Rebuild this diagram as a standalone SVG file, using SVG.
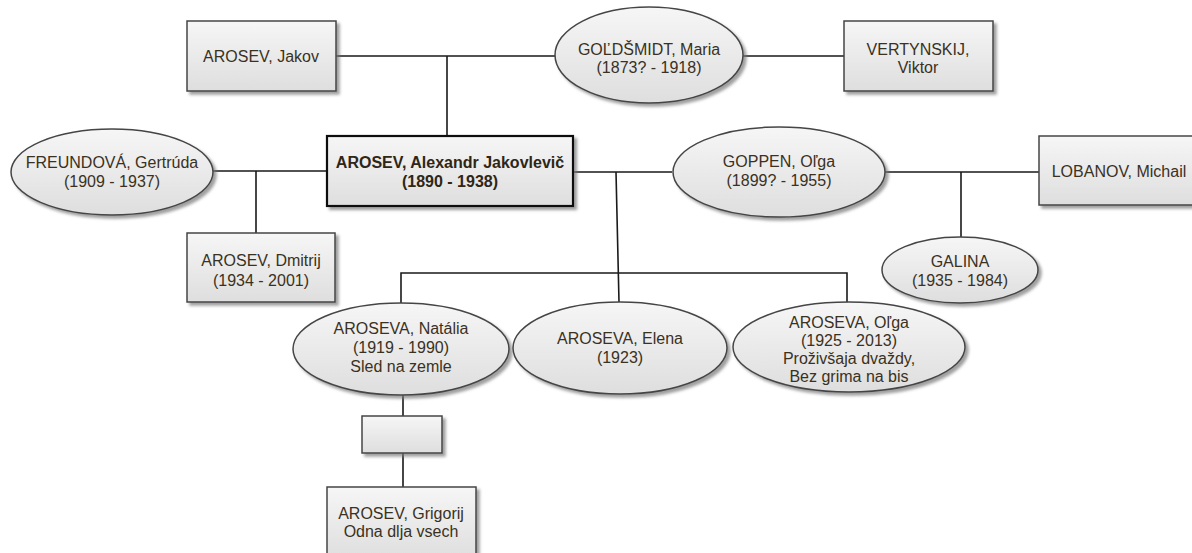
<svg xmlns="http://www.w3.org/2000/svg" width="1192" height="553" viewBox="0 0 1192 553">
<defs>
<linearGradient id="g" x1="0" y1="0" x2="0" y2="1">
<stop offset="0" stop-color="#f6f6f6"/>
<stop offset="1" stop-color="#dedede"/>
</linearGradient>
<filter id="sh" x="-10%" y="-10%" width="130%" height="140%">
<feDropShadow dx="3" dy="3" stdDeviation="1.5" flood-color="#777" flood-opacity="0.7"/>
</filter>
</defs>
<style>
.n{fill:url(#g);stroke:#454545;stroke-width:1.5;filter:url(#sh)}
.b{fill:url(#g);stroke:#111;stroke-width:2.2;filter:url(#sh)}
.c{fill:none;stroke:#1a1a1a;stroke-width:1.6}
text{font-family:"Liberation Sans",Arial,sans-serif;font-size:16px;fill:#3a3122;text-anchor:middle}
.t{font-weight:bold;fill:#2e2616}
</style>
<rect width="1192" height="553" fill="#fff"/>
<g id="connectors">
<path class="c" d="M336 56H557M743 56H844M447 56V136"/>
<path class="c" d="M213 171H327M256 171V233"/>
<path class="c" d="M573 172H672M616 172L619 302M401 303V273H847V302"/>
<path class="c" d="M885 172H1039M961 172V237"/>
<path class="c" d="M403 395V416M403 453V487"/>
</g>
<g id="jakov"><rect class="n" x="187" y="21" width="149" height="70"/><text x="261" y="62">AROSEV, Jakov</text></g>
<g id="goldsmidt"><ellipse class="n" cx="649" cy="55" rx="94" ry="48"/><text x="649" y="55">GOĽDŠMIDT, Maria</text><text x="649" y="73">(1873? - 1918)</text></g>
<g id="vertynskij"><rect class="n" x="844" y="21" width="149" height="70"/><text x="918" y="55">VERTYNSKIJ,</text><text x="918" y="73">Viktor</text></g>
<g id="freundova"><ellipse class="n" cx="112" cy="172" rx="101" ry="43"/><text x="112" y="168">FREUNDOVÁ, Gertrúda</text><text x="112" y="187">(1909 - 1937)</text></g>
<g id="alexandr"><rect class="b" x="327" y="136" width="246" height="70"/><text class="t" x="450" y="168">AROSEV, Alexandr Jakovlevič</text><text class="t" x="450" y="187">(1890 - 1938)</text></g>
<g id="goppen"><ellipse class="n" cx="779" cy="172" rx="106" ry="45"/><text x="779" y="167">GOPPEN, Oľga</text><text x="779" y="186">(1899? - 1955)</text></g>
<g id="lobanov"><rect class="n" x="1039" y="136" width="162" height="69"/><text x="1119" y="177">LOBANOV, Michail</text></g>
<g id="dmitrij"><rect class="n" x="187" y="233" width="148" height="69"/><text x="261" y="266">AROSEV, Dmitrij</text><text x="261" y="286">(1934 - 2001)</text></g>
<g id="galina"><ellipse class="n" cx="960" cy="270" rx="78" ry="33"/><text x="960" y="267">GALINA</text><text x="960" y="286">(1935 - 1984)</text></g>
<g id="natalia"><ellipse class="n" cx="401" cy="349" rx="108" ry="46"/><text x="401" y="334">AROSEVA, Natália</text><text x="401" y="353">(1919 - 1990)</text><text x="401" y="372">Sled na zemle</text></g>
<g id="elena"><ellipse class="n" cx="620" cy="348" rx="107" ry="46"/><text x="620" y="344">AROSEVA, Elena</text><text x="620" y="363">(1923)</text></g>
<g id="olga"><ellipse class="n" cx="849" cy="347" rx="116" ry="45"/><text x="849" y="328">AROSEVA, Oľga</text><text x="849" y="346">(1925 - 2013)</text><text x="849" y="364">Proživšaja dvaždy,</text><text x="849" y="382">Bez grima na bis</text></g>
<g id="blank"><rect class="n" x="362" y="416" width="80" height="37"/></g>
<g id="grigorij"><rect class="n" x="327" y="487" width="149" height="72"/><text x="401" y="519">AROSEV, Grigorij</text><text x="401" y="537">Odna dlja vsech</text></g>
</svg>
